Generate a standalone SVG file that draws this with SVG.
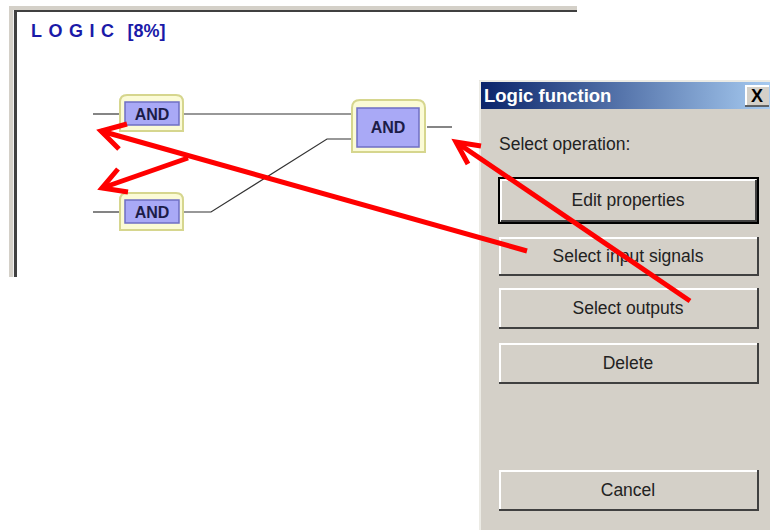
<svg xmlns="http://www.w3.org/2000/svg" width="770" height="530" viewBox="0 0 770 530">
<defs>
<linearGradient id="tb" x1="0" y1="0" x2="1" y2="0">
<stop offset="0" stop-color="#0a246a"/>
<stop offset="1" stop-color="#a6caf0"/>
</linearGradient>
<style>
.wire{stroke:#333;stroke-width:1.2;fill:none}
.red{stroke:#ff0000;stroke-width:5;fill:none;stroke-linejoin:miter;stroke-linecap:butt}
.outer{fill:#fbfbd6;stroke:#d6d68e;stroke-width:2}
.inner{fill:#a9a9f6;stroke:#6f6fc4;stroke-width:1.5}
.gt{font-family:"Liberation Sans",Arial,sans-serif;font-weight:bold;font-size:16px;fill:#1c1c48;text-anchor:middle}
.bt{font-family:"Liberation Sans",Arial,sans-serif;font-size:17.5px;fill:#222;text-anchor:middle}
.hi{stroke:#ffffff;stroke-width:2;fill:none}
.sh{stroke:#404040;stroke-width:2;fill:none}
</style>
</defs>
<rect width="770" height="530" fill="#ffffff"/>
<g id="logic-window">
<rect x="9" y="6" width="568" height="271" fill="#d4d0c8"/>
<rect x="14" y="10" width="563" height="267" fill="#404040"/>
<rect x="17" y="12" width="560" height="265" fill="#ffffff"/>
<rect x="13" y="10" width="1" height="267" fill="#f0f0f0"/>
<text x="31" y="37" font-family="'Liberation Sans',Arial,sans-serif" font-weight="bold" font-size="18" fill="#1a1aa8"><tspan letter-spacing="6.5">LOGIC</tspan><tspan dx="7">[8%]</tspan></text>
</g>
<g id="connectors">
<path class="wire" d="M93,114 H120"/>
<path class="wire" d="M183,114 H352"/>
<path class="wire" d="M93,212 H120"/>
<path class="wire" d="M183,212 H211 L327,139 H352"/>
<path class="wire" d="M427,127 H452"/>
</g>
<g id="and1">
<path class="outer" d="M120,131 V102 Q120,95 127,95 H176 Q183,95 183,102 V131 Z"/>
<rect class="inner" x="125" y="102" width="54" height="23"/>
<text class="gt" x="152" y="119.5">AND</text>
</g>
<g id="and2">
<path class="outer" d="M120,230 V200 Q120,193 127,193 H176 Q183,193 183,200 V230 Z"/>
<rect class="inner" x="125" y="200" width="54" height="23"/>
<text class="gt" x="152" y="217.5">AND</text>
</g>
<g id="and3">
<path class="outer" d="M352,152 V108 Q352,100 360,100 H417 Q425,100 425,108 V152 Z"/>
<rect class="inner" x="357" y="108" width="62" height="39"/>
<text class="gt" x="388" y="133">AND</text>
</g>
<g id="dialog">
<rect x="479" y="80" width="291" height="450" fill="#d4d0c8"/>
<path d="M480,530 V81 H770" stroke="#f4f3ee" stroke-width="1.5" fill="none"/>
<rect x="481" y="82" width="289" height="27" fill="url(#tb)"/>
<text x="484" y="102" font-family="'Liberation Sans',Arial,sans-serif" font-weight="bold" font-size="18.5" fill="#ffffff">Logic function</text>
<g id="close-btn">
<rect x="745" y="85" width="24" height="21" fill="#d4d0c8"/>
<path class="hi" d="M746,105 V86 H769" stroke-width="1.5"/>
<path d="M745,106 H769" stroke="#404040" stroke-width="1.5"/>
<text x="757" y="102" font-family="'Liberation Sans',Arial,sans-serif" font-weight="bold" font-size="18" fill="#000" text-anchor="middle">X</text>
</g>
<text x="499" y="150" font-family="'Liberation Sans',Arial,sans-serif" font-size="17.5" fill="#222">Select operation:</text>
<g id="btn-edit">
<rect x="499" y="178" width="259" height="45" fill="#d4d0c8" stroke="#000" stroke-width="2"/>
<path class="hi" d="M501,221 V180 H756"/>
<path class="sh" d="M501,221 H756 V180"/>
<text class="bt" x="628" y="206">Edit properties</text>
</g>
<g id="btn-input">
<rect x="499" y="237" width="259" height="38" fill="#d4d0c8"/>
<path class="hi" d="M500,275 V238 H757"/>
<path class="sh" d="M499,275 H758 V237"/>
<text class="bt" x="628" y="262">Select input signals</text>
</g>
<g id="btn-outputs">
<rect x="499" y="288" width="259" height="40" fill="#d4d0c8"/>
<path class="hi" d="M500,328 V289 H757"/>
<path class="sh" d="M499,328 H758 V288"/>
<text class="bt" x="628" y="314">Select outputs</text>
</g>
<g id="btn-delete">
<rect x="499" y="343" width="259" height="40" fill="#d4d0c8"/>
<path class="hi" d="M500,383 V344 H757"/>
<path class="sh" d="M499,383 H758 V343"/>
<text class="bt" x="628" y="369">Delete</text>
</g>
<g id="btn-cancel">
<rect x="499" y="470" width="259" height="40" fill="#d4d0c8"/>
<path class="hi" d="M500,510 V471 H757"/>
<path class="sh" d="M499,510 H758 V470"/>
<text class="bt" x="628" y="496">Cancel</text>
</g>
</g>
<g id="annotation-arrows">
<path class="red" d="M527,251 L101,131"/>
<path class="red" d="M127,124 L101,131 L119,149"/>
<path class="red" d="M188,158 L102,188"/>
<path class="red" d="M118,169 L102,188 L128,192"/>
<path class="red" d="M690,301 L456,142"/>
<path class="red" d="M481,146 L456,142 L468,164"/>
</g>
</svg>
